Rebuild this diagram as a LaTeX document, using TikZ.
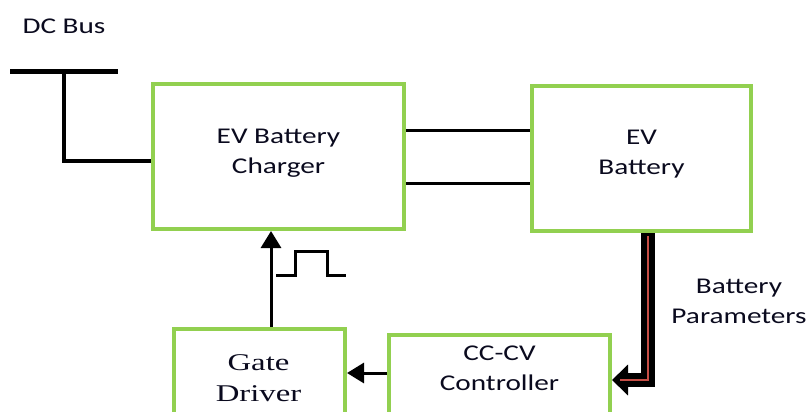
\documentclass[tikz,border=0pt]{standalone}
\usepackage{fontspec}
\setmainfont{Carlito}
\newfontfamily\drvfont{Liberation Serif}
\usetikzlibrary{arrows.meta,calc,positioning}
\definecolor{boxgreen}{RGB}{146,208,80}
\definecolor{paramred}{RGB}{198,78,70}
\definecolor{napisink}{RGB}{10,10,30}
\tikzset{
  blok/.style={draw=boxgreen,line width=4pt,inner sep=0pt,anchor=north west},
  napis/.style={inner sep=0pt,align=center,xscale=1.3,text=napisink,
    font=\fontsize{22.5}{30}\selectfont},
  przewod/.style={line width=3pt},
}

\begin{document}
\begin{tikzpicture}[x=1pt,y=-1pt,>={Triangle[length=17pt,width=20pt]}]
\useasboundingbox (0,0) rectangle (812,412);
\clip (0,0) rectangle (812,412);
% bloki
\node[blok,minimum width=251pt,minimum height=145pt] (charger) at (151,82) {};
\node[blok,minimum width=219pt,minimum height=145pt] (battery) at (530,84) {};
\node[blok,minimum width=221pt,minimum height=120pt] (ccv) at (387,333) {};
\node[blok,minimum width=171pt,minimum height=120pt] (gate) at (172,327) {};
% napisy
\node[napis] (chargertxt) at ($(charger)+(0,-3)$) {EV Battery\\Charger};
\node[napis] (batterytxt) at ($(battery)+(0,-4)$) {EV\\Battery};
\node[napis] (ccvtxt) at ($(ccv.north)+(0,35)$) {CC-CV\\Controller};
\begin{scope}
  \clip (gate.north west) rectangle ($(gate.north east)+(0,75)$);
  \node[napis,xscale=1.05,font=\drvfont\fontsize{24}{31}\selectfont] (gatetxt)
    at ($(gate.north)+(-1,51)$) {Gate\\Driver};
\end{scope}
\node[napis] (bustxt) at (64,26) {DC Bus};
\node[napis] (paramtxt) at (739,301) {Battery\\Parameters};
% --- szyna DC ---
\coordinate (busL) at (10,72);
\coordinate (busR) at (118,72);
\coordinate (tap) at (64,72);
\draw[line width=5pt] (busL) -- (busR);
\draw[przewod,line width=4pt] (tap) |- ([yshift=-4pt]charger.west);
% ładowarka -> bateria
\draw[przewod] ([yshift=26.5pt]charger.east) -- ([yshift=26.5pt]charger.east -| battery.west);
\draw[przewod] ([yshift=-26.5pt]charger.east) -- ([yshift=-26.5pt]charger.east -| battery.west);
% parametry baterii
\coordinate (pstart) at ([xshift=6.5pt]battery.south);
\coordinate (pend) at ($(ccv.north east)+(0,47)$);
\draw[line width=14pt,line join=miter,-{Triangle[length=16pt,width=30pt]}]
  (pstart) |- (pend);
\draw[paramred,line width=2.5pt] ($(pstart)+(0,3)$) |- ($(pend)+(8,0)$);
% sterownik -> driver -> ładowarka
\coordinate (ccin) at ($(ccv.north west)+(0,40)$);
\draw[przewod,->] (ccin) -- (ccin -| gate.east);
\draw[przewod,->] ([xshift=11.5pt]gate.north) -- ([xshift=11.5pt]gate.north |- charger.south);
% impuls
\draw[przewod] (276,275) -- (295,275) -- (295,251) -- (327,251) -- (327,275) -- (346,275);
\end{tikzpicture}
\end{document}
